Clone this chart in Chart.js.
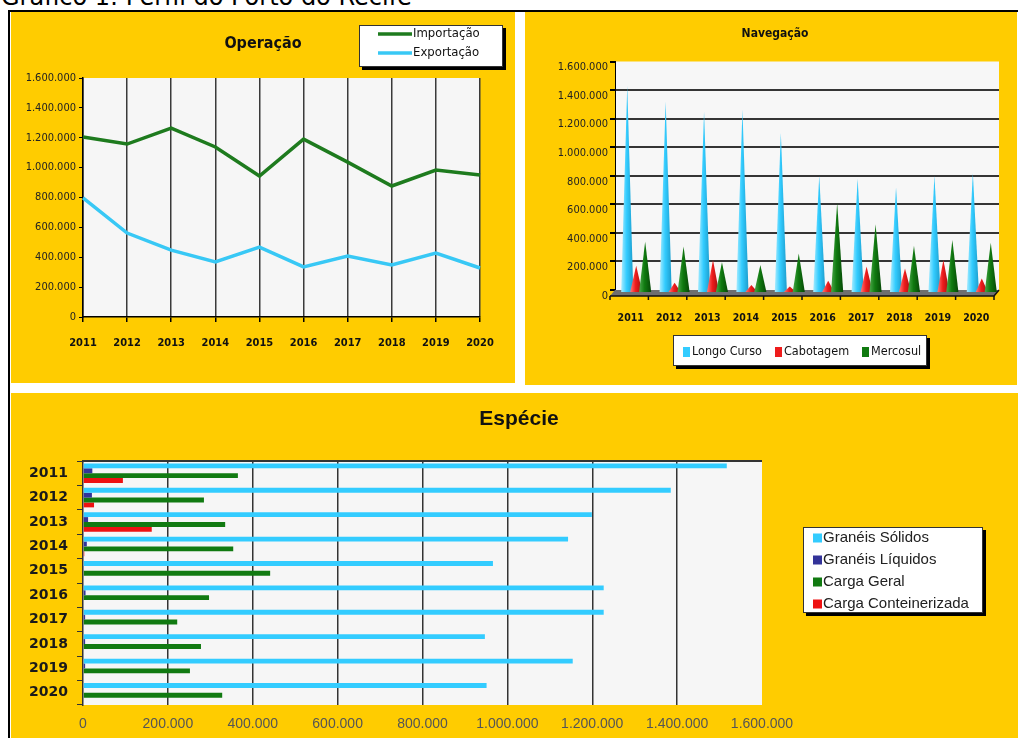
<!DOCTYPE html>
<html>
<head>
<meta charset="utf-8">
<script src="https://cdn.jsdelivr.net/npm/chart.js@4.4.0/dist/chart.umd.min.js"></script>
<style>
  body { margin: 0; width: 1018px; height: 738px; background: #fff; position: relative; overflow: hidden; }
  #heading { position: absolute; left: 1px; top: -15px; font: 24px/24px "DejaVu Sans", Verdana, sans-serif; color: #000; white-space: nowrap; }
  #frameTop { position: absolute; left: 8px; top: 10px; width: 1010px; height: 2px; background: #000; }
  #frameLeft { position: absolute; left: 8px; top: 10px; width: 2px; height: 728px; background: #000; }
  .panel { position: absolute; background: #ffcc00; }
  .panel canvas { position: absolute; top: 0; }
</style>
</head>
<body>
<div id="heading">Gráfico 1: Perfil do Porto do Recife</div>
<div id="frameTop"></div>
<div id="frameLeft"></div>
<div class="panel" style="left:11px;top:12px;width:504px;height:371px">
  <canvas id="operacao" width="504" height="371" style="left:0"></canvas>
</div>
<div class="panel" style="left:525px;top:12px;width:492px;height:373px">
  <canvas id="navegacao" width="484" height="373" style="left:8px"></canvas>
</div>
<div class="panel" style="left:11px;top:393px;width:1007px;height:345px">
  <canvas id="especie" width="998" height="345" style="left:9px"></canvas>
</div>
<script>
const years = ["2011", "2012", "2013", "2014", "2015", "2016", "2017", "2018", "2019", "2020"];

// Operação
const importacao = [1205000, 1158000, 1265000, 1138000, 944000, 1191000, 1037000, 877000, 984000, 950000];
const exportacao = [797000, 562000, 448000, 368000, 468000, 335000, 408000, 348000, 428000, 328000];

// Navegação
const longoCurso = [1430000, 1320000, 1250000, 1260000, 1100000, 800000, 780000, 720000, 800000, 820000];
const cabotagem = [170000, 50000, 210000, 35000, 25000, 65000, 165000, 150000, 210000, 80000];
const mercosul = [340000, 305000, 195000, 175000, 255000, 610000, 460000, 310000, 350000, 330000];

// Espécie
const graneisSolidos = [1517000, 1385000, 1199000, 1143000, 966000, 1227000, 1227000, 947000, 1154000, 951000];
const graneisLiquidos = [22000, 21000, 12000, 9000, 2000, 6000, 5000, 5000, 5000, 2000];
const cargaGeral = [365000, 285000, 335000, 354000, 441000, 297000, 222000, 278000, 252000, 328000];
const cargaConteinerizada = [94000, 26000, 162000, 3000, 0, 0, 0, 0, 0, 0];

const axisMax = 1600000;
const axisStep = 200000;

const NARROW = '"Liberation Sans Narrow", "Arial Narrow", "DejaVu Sans Condensed", sans-serif';
const ARIAL = '"Liberation Sans", Arial, sans-serif';
const HEAVY = '"DejaVu Sans", Verdana, sans-serif';

function fmt(v) {
  return String(v).replace(/\B(?=(\d{3})+(?!\d))/g, ".");
}

// fills the plot area, optional dark line on top
const plotBg = {
  id: "plotBg",
  beforeDraw(chart, args, opts) {
    const a = chart.chartArea;
    const ctx = chart.ctx;
    ctx.save();
    ctx.fillStyle = opts.color;
    ctx.fillRect(a.left, a.top, a.right - a.left, a.bottom - a.top);
    ctx.restore();
  },
  afterDraw(chart, args, opts) {
    if (!opts.topLine) return;
    const a = chart.chartArea;
    const ctx = chart.ctx;
    ctx.save();
    ctx.strokeStyle = opts.topLine;
    ctx.lineWidth = 2;
    ctx.beginPath();
    ctx.moveTo(a.left, a.top);
    ctx.lineTo(a.right, a.top);
    ctx.stroke();
    ctx.restore();
  }
};

// legend in a white box with a black shadow
const boxLegend = {
  id: "boxLegend",
  afterDraw(chart, args, opts) {
    const ctx = chart.ctx;
    const b = opts.box;
    ctx.save();
    ctx.fillStyle = "#000";
    ctx.fillRect(b.x + 3, b.y + 3, b.w, b.h);
    ctx.fillStyle = "#fff";
    ctx.fillRect(b.x, b.y, b.w, b.h);
    ctx.strokeStyle = "#333";
    ctx.lineWidth = 1;
    ctx.strokeRect(b.x + 0.5, b.y + 0.5, b.w - 1, b.h - 1);
    ctx.font = opts.font;
    ctx.textBaseline = "middle";
    chart.data.datasets.forEach((ds, i) => {
      const p = opts.items[i];
      if (opts.marker === "line") {
        ctx.strokeStyle = ds.borderColor;
        ctx.lineWidth = 3.5;
        ctx.beginPath();
        ctx.moveTo(p.x, p.y);
        ctx.lineTo(p.x + opts.markerW, p.y);
        ctx.stroke();
      } else {
        ctx.fillStyle = ds.legendColor || ds.backgroundColor;
        ctx.fillRect(p.x, p.y - opts.markerH / 2, opts.markerW, opts.markerH);
      }
      ctx.fillStyle = opts.textColor;
      ctx.fillText(ds.label, p.x + opts.markerW + opts.gap, p.y);
    });
    ctx.restore();
  }
};

// draws the Navegação bars as cones standing on a grey floor
const cones = {
  id: "cones",
  beforeDatasetsDraw(chart, args, opts) {
    const a = chart.chartArea;
    const ctx = chart.ctx;
    const d = opts.depth;
    ctx.save();
    ctx.fillStyle = "#6f6f6f";
    ctx.beginPath();
    ctx.moveTo(a.left, a.bottom);
    ctx.lineTo(a.right, a.bottom);
    ctx.lineTo(a.right - d.x, a.bottom + d.y);
    ctx.lineTo(a.left - d.x, a.bottom + d.y);
    ctx.closePath();
    ctx.fill();
    ctx.strokeStyle = "#111";
    ctx.lineWidth = 1.5;
    ctx.beginPath();
    ctx.moveTo(a.left - d.x, a.bottom + d.y);
    ctx.lineTo(a.right - d.x, a.bottom + d.y);
    ctx.lineTo(a.right, a.bottom);
    ctx.stroke();
    const n = chart.data.labels.length;
    const band = (a.right - a.left) / n;
    for (let i = 0; i <= n; i++) {
      const x = a.left - d.x + i * band;
      ctx.beginPath();
      ctx.moveTo(x, a.bottom + d.y);
      ctx.lineTo(x, a.bottom + d.y + 4);
      ctx.stroke();
    }
    ctx.restore();
  },
  beforeDatasetDraw() {
    return false;
  },
  afterDatasetsDraw(chart, args, opts) {
    const ctx = chart.ctx;
    ctx.save();
    chart.data.datasets.forEach((ds, i) => {
      const meta = chart.getDatasetMeta(i);
      const shades = opts.shades[i];
      meta.data.forEach((el) => {
        const p = el.getProps(["x", "y", "base", "width"], true);
        const half = (p.width * opts.widthScale) / 2;
        const cx = p.x + opts.dx;
        const base = p.base + opts.baseDy;
        const g = ctx.createLinearGradient(cx - half, 0, cx + half, 0);
        g.addColorStop(0, shades[0]);
        g.addColorStop(0.45, shades[1]);
        g.addColorStop(1, shades[2]);
        ctx.fillStyle = g;
        ctx.beginPath();
        ctx.moveTo(cx - half, base);
        ctx.lineTo(cx, p.y);
        ctx.lineTo(cx + half, base);
        ctx.closePath();
        ctx.fill();
      });
    });
    ctx.restore();
  }
};

function padAxis(width) {
  return {
    type: "linear",
    position: "right",
    grid: { display: false },
    ticks: { display: false },
    border: { display: false },
    afterFit: (s) => { s.width = width; }
  };
}

new Chart(document.getElementById("operacao"), {
  type: "line",
  data: {
    labels: years,
    datasets: [
      { label: "Importação", data: importacao, borderColor: "#1e7b1e", borderWidth: 3.5, pointRadius: 0, tension: 0 },
      { label: "Exportação", data: exportacao, borderColor: "#38c8f5", borderWidth: 3.5, pointRadius: 0, tension: 0 }
    ]
  },
  options: {
    responsive: false,
    animation: false,
    events: [],
    layout: { padding: 0 },
    scales: {
      x: {
        offset: false,
        grid: { color: "#3a3a3a", lineWidth: 1.5, tickLength: 5, tickColor: "#000" },
        border: { color: "#000", width: 1.5 },
        ticks: { padding: 15, color: "#111", maxRotation: 0, autoSkip: false, font: { family: NARROW, size: 11, weight: "bold" } },
        afterFit: (s) => { s.height = 66; }
      },
      y: {
        min: 0,
        max: axisMax,
        ticks: { stepSize: axisStep, callback: (v) => fmt(v), padding: 3, color: "#222", font: { family: NARROW, size: 11 } },
        grid: { drawOnChartArea: false, tickLength: 4, color: "#000" },
        border: { color: "#000", width: 1.5 },
        afterFit: (s) => { s.width = 72; }
      },
      pad: padAxis(35)
    },
    plugins: {
      legend: { display: false },
      tooltip: { enabled: false },
      title: {
        display: true,
        text: "Operação",
        color: "#111",
        font: { family: NARROW, size: 16, weight: "bold" },
        padding: { top: 22.4, bottom: 24.4 }
      },
      plotBg: { color: "#f6f6f6" },
      boxLegend: {
        box: { x: 348, y: 13, w: 144, h: 42 },
        items: [{ x: 367, y: 22 }, { x: 367, y: 41 }],
        marker: "line",
        markerW: 34,
        gap: 1,
        font: "13px " + NARROW,
        textColor: "#111"
      }
    }
  },
  plugins: [plotBg, boxLegend]
});

new Chart(document.getElementById("navegacao"), {
  type: "bar",
  data: {
    labels: years,
    datasets: [
      { label: "Longo Curso", data: longoCurso, backgroundColor: "#33ccff" },
      { label: "Cabotagem", data: cabotagem, backgroundColor: "#ee1c1c" },
      { label: "Mercosul", data: mercosul, backgroundColor: "#107a10" }
    ]
  },
  options: {
    responsive: false,
    animation: false,
    events: [],
    layout: { padding: 0 },
    datasets: { bar: { categoryPercentage: 0.7, barPercentage: 1 } },
    scales: {
      x: {
        grid: { display: false, drawTicks: false },
        border: { display: false },
        ticks: { labelOffset: -3.5, padding: 22, color: "#111", maxRotation: 0, autoSkip: false, font: { family: NARROW, size: 10.5, weight: "bold" } },
        afterFit: (s) => { s.height = 95; }
      },
      y: {
        min: 0,
        max: axisMax,
        ticks: { stepSize: axisStep, callback: (v) => fmt(v), labelOffset: 6, padding: 2, color: "#222", font: { family: NARROW, size: 11 } },
        grid: {
          color: (c) => (c.tick.value === 0 || c.tick.value === axisMax ? "rgba(0,0,0,0)" : "#353535"),
          lineWidth: 2,
          tickLength: 5,
          tickColor: "#000"
        },
        border: { color: "#000", width: 1 },
        afterFit: (s) => { s.width = 82; }
      },
      pad: padAxis(18)
    },
    plugins: {
      legend: { display: false },
      tooltip: { enabled: false },
      title: {
        display: true,
        text: "Navegação",
        color: "#111",
        font: { family: NARROW, size: 12, weight: "bold" },
        padding: { top: 14.8, bottom: 20.3 }
      },
      plotBg: { color: "#f7f7f7" },
      cones: {
        depth: { x: 5, y: 6 },
        dx: 2,
        baseDy: 3,
        widthScale: 1.35,
        shades: [
          ["#a8ecff", "#33ccff", "#1b9ccc"],
          ["#ff7a7a", "#ee1c1c", "#a00d0d"],
          ["#4aa84a", "#107a10", "#064806"]
        ]
      },
      boxLegend: {
        box: { x: 140, y: 323, w: 254, h: 31 },
        items: [{ x: 150, y: 340 }, { x: 242, y: 340 }, { x: 329, y: 340 }],
        marker: "box",
        markerW: 7,
        markerH: 10,
        gap: 2,
        font: "12.5px " + NARROW,
        textColor: "#111"
      }
    }
  },
  plugins: [plotBg, cones, boxLegend]
});

new Chart(document.getElementById("especie"), {
  type: "bar",
  data: {
    labels: years,
    datasets: [
      { label: "Granéis Sólidos", data: graneisSolidos, backgroundColor: "#33ccff" },
      { label: "Granéis Líquidos", data: graneisLiquidos, backgroundColor: "#333399" },
      { label: "Carga Geral", data: cargaGeral, backgroundColor: "#117a11" },
      { label: "Carga Conteinerizada", data: cargaConteinerizada, backgroundColor: "#ee1111" }
    ]
  },
  options: {
    indexAxis: "y",
    responsive: false,
    animation: false,
    events: [],
    layout: { padding: 0 },
    datasets: { bar: { categoryPercentage: 0.8, barPercentage: 1 } },
    scales: {
      x: {
        min: 0,
        max: axisMax,
        ticks: { stepSize: axisStep, callback: (v) => fmt(v), padding: 11, color: "#555", font: { family: ARIAL, size: 14 } },
        grid: {
          color: (c) => (c.tick.value === 0 || c.tick.value === axisMax ? "rgba(0,0,0,0)" : "#333"),
          lineWidth: 1.5,
          drawTicks: false
        },
        border: { display: false },
        afterFit: (s) => { s.height = 33; }
      },
      y: {
        ticks: { padding: 9, color: "#1a1a1a", autoSkip: false, font: { family: HEAVY, size: 14, weight: "bold" } },
        grid: { offset: true, drawOnChartArea: false, tickLength: 6, color: "#333" },
        border: { color: "#333", width: 1.5 },
        afterFit: (s) => { s.width = 63; }
      },
      pad: padAxis(256)
    },
    plugins: {
      legend: { display: false },
      tooltip: { enabled: false },
      title: {
        display: true,
        text: "Espécie",
        color: "#111",
        font: { family: ARIAL, size: 21, weight: "bold" },
        padding: { top: 13.4, bottom: 29.4 }
      },
      plotBg: { color: "#f6f6f6", topLine: "#333" },
      boxLegend: {
        box: { x: 783, y: 134, w: 180, h: 86 },
        items: [{ x: 793, y: 145 }, { x: 793, y: 167 }, { x: 793, y: 189 }, { x: 793, y: 211 }],
        marker: "box",
        markerW: 9,
        markerH: 9,
        gap: 1,
        font: "15px " + ARIAL,
        textColor: "#222"
      }
    }
  },
  plugins: [plotBg, boxLegend]
});
</script>
</body>
</html>
